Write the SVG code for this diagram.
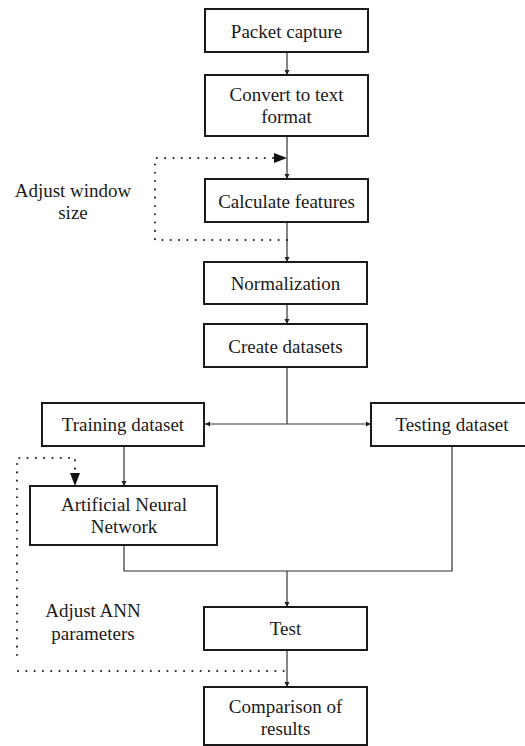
<svg xmlns="http://www.w3.org/2000/svg" width="525" height="746" viewBox="0 0 525 746">
<style>
.box{fill:#fff;stroke:#1a1a1a;stroke-width:2}
.t{font-family:'Liberation Serif','Tinos','DejaVu Serif','Times New Roman',serif;font-size:19px;fill:#1a1a1a;text-anchor:middle}
.c{fill:none;stroke:#333;stroke-width:1.2}
.d{fill:none;stroke:#222;stroke-width:2;stroke-dasharray:0.1 8.2;stroke-linecap:round}
</style>
<defs>
<marker id="a" markerWidth="6" markerHeight="6" refX="5" refY="3" orient="auto" markerUnits="userSpaceOnUse"><path d="M0,0.5 L5,3 L0,5.5 Z" fill="#222"/></marker>
<marker id="b" markerWidth="14" markerHeight="10" refX="13" refY="5" orient="auto" markerUnits="userSpaceOnUse"><path d="M0,0 L13,5 L0,10 Z" fill="#111"/></marker>
</defs>
<g id="connectors">
<line class="c" x1="287" y1="52" x2="287" y2="75" marker-end="url(#a)"/>
<line class="c" x1="287" y1="136" x2="287" y2="179" marker-end="url(#a)"/>
<line class="c" x1="287" y1="222" x2="287" y2="262" marker-end="url(#a)"/>
<line class="c" x1="287" y1="304" x2="287" y2="324" marker-end="url(#a)"/>
<line class="c" x1="287" y1="367" x2="287" y2="424"/>
<line class="c" x1="287" y1="424" x2="205" y2="424" marker-end="url(#a)"/>
<line class="c" x1="287" y1="424" x2="371" y2="424" marker-end="url(#a)"/>
<line class="c" x1="124" y1="446" x2="124" y2="486" marker-end="url(#a)"/>
<polyline class="c" points="124,545 124,571 452,571 452,446"/>
<line class="c" x1="287" y1="571" x2="287" y2="607" marker-end="url(#a)"/>
<line class="c" x1="287" y1="650" x2="287" y2="687" marker-end="url(#a)"/>
<polyline class="d" points="287,240 155,240 155,158 274,158"/>
<line x1="272" y1="158" x2="287" y2="158" stroke="none" marker-end="url(#b)"/>
<polyline class="d" points="17,655 17,458 75,458 75,472"/>
<line x1="75" y1="472" x2="75" y2="486" stroke="none" marker-end="url(#b)"/>
<line class="d" x1="18" y1="671" x2="287" y2="671"/>
</g>
<g id="packet"><rect class="box" x="205" y="9" width="163" height="43"/><text class="t" x="286.5" y="37.5">Packet capture</text></g>
<g id="convert"><rect class="box" x="205" y="75" width="163" height="61"/><text class="t" x="286.5" y="100.5">Convert to text</text><text class="t" x="286.5" y="122.5">format</text></g>
<g id="calculate"><rect class="box" x="205" y="179" width="163" height="43"/><text class="t" x="286.5" y="207.5">Calculate features</text></g>
<g id="normalization"><rect class="box" x="204" y="262" width="163" height="42"/><text class="t" x="285.5" y="290">Normalization</text></g>
<g id="create"><rect class="box" x="204" y="324" width="163" height="43"/><text class="t" x="285.5" y="352.5">Create datasets</text></g>
<g id="training"><rect class="box" x="42" y="403" width="162" height="43"/><text class="t" x="123" y="431">Training dataset</text></g>
<g id="testing"><rect class="box" x="371" y="403" width="164" height="43"/><text class="t" x="452" y="431">Testing dataset</text></g>
<g id="ann"><rect class="box" x="30" y="486" width="187" height="59"/><text class="t" x="124" y="511">Artificial Neural</text><text class="t" x="124" y="533">Network</text></g>
<g id="test"><rect class="box" x="204" y="607" width="163" height="43"/><text class="t" x="285.5" y="635">Test</text></g>
<g id="comparison"><rect class="box" x="204" y="687" width="163" height="58"/><text class="t" x="285.5" y="713">Comparison of</text><text class="t" x="285.5" y="735">results</text></g>
<g id="label-window"><text class="t" x="73" y="197">Adjust window</text><text class="t" x="73" y="219">size</text></g>
<g id="label-ann"><text class="t" x="93" y="617">Adjust ANN</text><text class="t" x="93" y="640">parameters</text></g>
</svg>
